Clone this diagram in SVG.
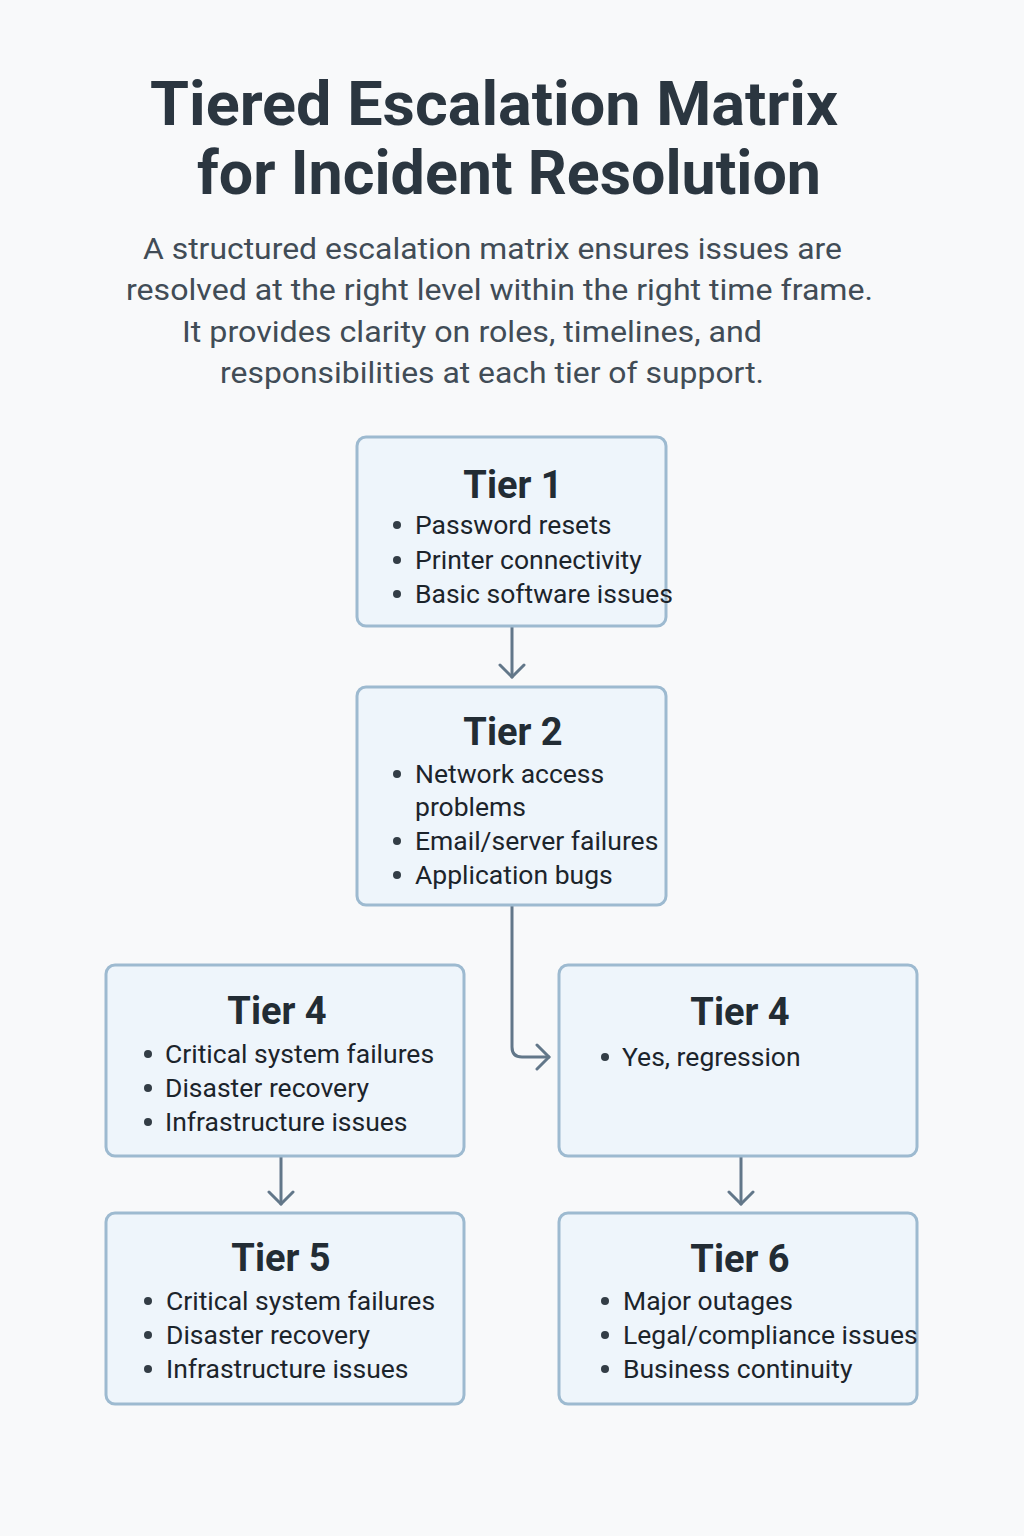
<svg xmlns="http://www.w3.org/2000/svg" width="1024" height="1536" viewBox="0 0 1024 1536">
<defs>
<style>
.title{font-family:Roboto,"Liberation Sans",sans-serif;font-weight:700;font-size:61px;fill:#2b3640}
.sub{font-family:Roboto,"Liberation Sans",sans-serif;font-size:30px;fill:#414c56}
.box{fill:#eef5fb;stroke:#9dbad0;stroke-width:3}
.tier{font-family:Roboto,"Liberation Sans",sans-serif;font-weight:700;font-size:38px;fill:#222c34;text-anchor:middle}
.item{font-family:Roboto,"Liberation Sans",sans-serif;font-size:26.5px;fill:#1c242b}
.dot{fill:#333d46}
.conn{fill:none;stroke:#627789;stroke-width:3;stroke-linecap:round;stroke-linejoin:round}
</style>
<marker id="arr" markerWidth="30" markerHeight="30" refX="14" refY="15" orient="auto" markerUnits="userSpaceOnUse">
<path d="M2,3 L14,15 L2,27" fill="none" stroke="#627789" stroke-width="3" stroke-linecap="round" stroke-linejoin="round"/>
</marker>
</defs>
<rect width="1024" height="1536" fill="#f8f9fa"/>
<g id="title">
<text class="title" x="150" y="125" textLength="688" lengthAdjust="spacingAndGlyphs">Tiered Escalation Matrix</text>
<text class="title" x="197" y="194" textLength="624" lengthAdjust="spacingAndGlyphs">for Incident Resolution</text>
</g>
<g id="subtitle">
<text class="sub" x="143" y="259" textLength="699" lengthAdjust="spacingAndGlyphs">A structured escalation matrix ensures issues are</text>
<text class="sub" x="126" y="300" textLength="747" lengthAdjust="spacingAndGlyphs">resolved at the right level within the right time frame.</text>
<text class="sub" x="182" y="342" textLength="580" lengthAdjust="spacingAndGlyphs">It provides clarity on roles, timelines, and</text>
<text class="sub" x="220" y="383" textLength="544" lengthAdjust="spacingAndGlyphs">responsibilities at each tier of support.</text>
</g>
<g id="connectors">
<path class="conn" d="M512,627 L512,677" marker-end="url(#arr)"/>
<path class="conn" d="M512,906 L512,1047 Q512,1057 522,1057 L549,1057" marker-end="url(#arr)"/>
<path class="conn" d="M281,1157 L281,1204" marker-end="url(#arr)"/>
<path class="conn" d="M741,1157 L741,1204" marker-end="url(#arr)"/>
</g>
<g id="tier1">
<rect class="box" x="357" y="437" width="309" height="189" rx="9"/>
<text class="tier" x="513" y="498">Tier 1</text>
<circle class="dot" cx="397" cy="525" r="4"/>
<circle class="dot" cx="397" cy="560" r="4"/>
<circle class="dot" cx="397" cy="594" r="4"/>
<text class="item" x="415" y="534">Password resets</text>
<text class="item" x="415" y="569">Printer connectivity</text>
<text class="item" x="415" y="603">Basic software issues</text>
</g>
<g id="tier2">
<rect class="box" x="357" y="687" width="309" height="218" rx="9"/>
<text class="tier" x="513" y="745">Tier 2</text>
<circle class="dot" cx="397" cy="774" r="4"/>
<circle class="dot" cx="397" cy="841" r="4"/>
<circle class="dot" cx="397" cy="875" r="4"/>
<text class="item" x="415" y="783">Network access</text>
<text class="item" x="415" y="816">problems</text>
<text class="item" x="415" y="850">Email/server failures</text>
<text class="item" x="415" y="884">Application bugs</text>
</g>
<g id="tier4a">
<rect class="box" x="106" y="965" width="358" height="191" rx="9"/>
<text class="tier" x="277" y="1024">Tier 4</text>
<circle class="dot" cx="148" cy="1054" r="4"/>
<circle class="dot" cx="148" cy="1088" r="4"/>
<circle class="dot" cx="148" cy="1122" r="4"/>
<text class="item" x="165" y="1063">Critical system failures</text>
<text class="item" x="165" y="1097">Disaster recovery</text>
<text class="item" x="165" y="1131">Infrastructure issues</text>
</g>
<g id="tier4b">
<rect class="box" x="559" y="965" width="358" height="191" rx="9"/>
<text class="tier" x="740" y="1025">Tier 4</text>
<circle class="dot" cx="605" cy="1057" r="4"/>
<text class="item" x="622" y="1066">Yes, regression</text>
</g>
<g id="tier5">
<rect class="box" x="106" y="1213" width="358" height="191" rx="9"/>
<text class="tier" x="281" y="1271">Tier 5</text>
<circle class="dot" cx="148" cy="1301" r="4"/>
<circle class="dot" cx="148" cy="1335" r="4"/>
<circle class="dot" cx="148" cy="1369" r="4"/>
<text class="item" x="166" y="1310">Critical system failures</text>
<text class="item" x="166" y="1344">Disaster recovery</text>
<text class="item" x="166" y="1378">Infrastructure issues</text>
</g>
<g id="tier6">
<rect class="box" x="559" y="1213" width="358" height="191" rx="9"/>
<text class="tier" x="740" y="1272">Tier 6</text>
<circle class="dot" cx="605" cy="1301" r="4"/>
<circle class="dot" cx="605" cy="1335" r="4"/>
<circle class="dot" cx="605" cy="1369" r="4"/>
<text class="item" x="623" y="1310">Major outages</text>
<text class="item" x="623" y="1344">Legal/compliance issues</text>
<text class="item" x="623" y="1378">Business continuity</text>
</g>
</svg>
